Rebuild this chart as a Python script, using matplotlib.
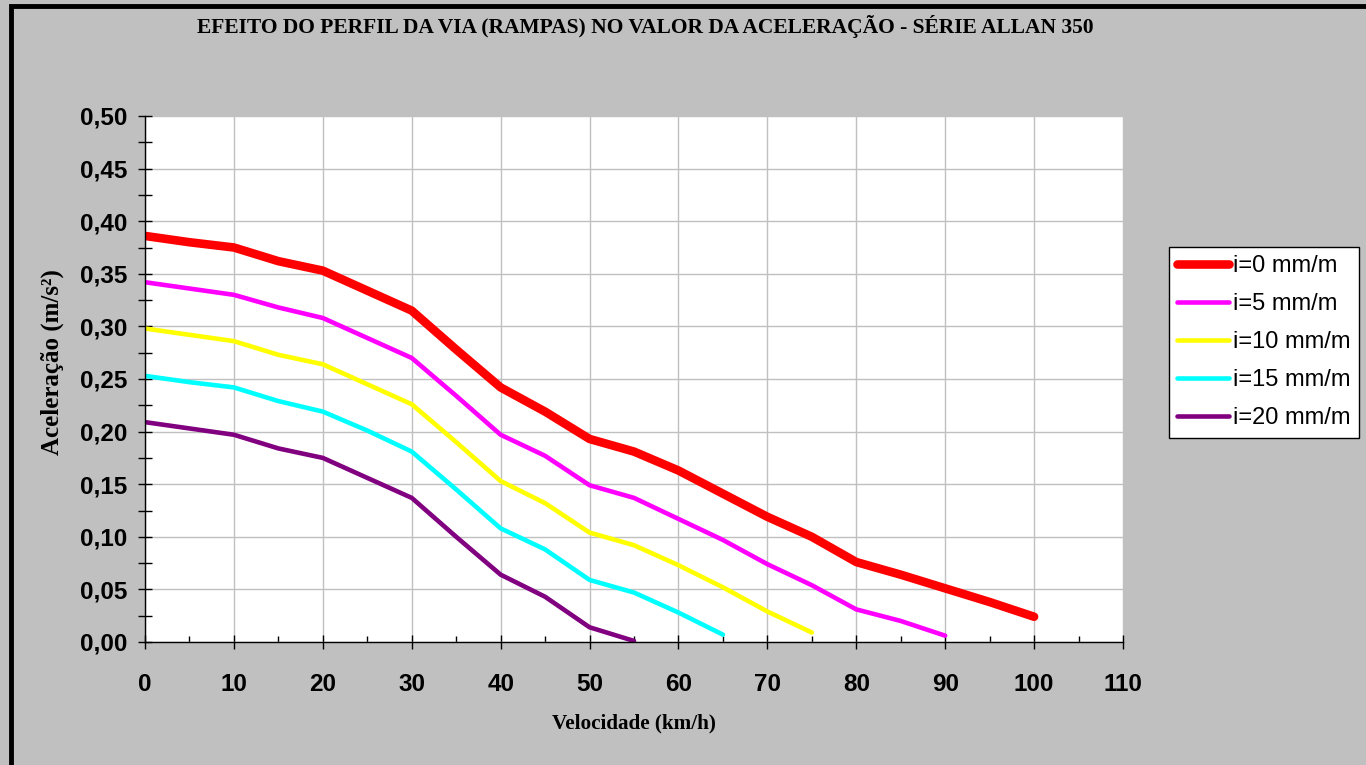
import matplotlib
matplotlib.use("Agg")
import matplotlib.pyplot as plt
from matplotlib.patches import Rectangle
from matplotlib.ticker import MultipleLocator, FuncFormatter

# velocidade (km/h) e aceleracao (m/s2) para cada rampa
vel = [0, 5, 10, 15, 20, 25, 30, 35, 40, 45, 50, 55, 60, 65, 70, 75, 80, 85, 90, 95, 100]

acel_i0 = [0.386, 0.380, 0.375, 0.362, 0.353, 0.334, 0.315, 0.278, 0.242, 0.219, 0.193,
           0.181, 0.163, 0.141, 0.119, 0.100, 0.076, 0.064, 0.051, 0.038, 0.024]
acel_i5 = [0.342, 0.336, 0.330, 0.318, 0.308, 0.289, 0.270, 0.234, 0.197, 0.177, 0.149,
           0.137, 0.117, 0.097, 0.074, 0.054, 0.031, 0.020, 0.006]
acel_i10 = [0.298, 0.292, 0.286, 0.273, 0.264, 0.245, 0.226, 0.190, 0.153, 0.132, 0.104,
            0.092, 0.073, 0.052, 0.029, 0.009]
acel_i15 = [0.253, 0.247, 0.242, 0.229, 0.219, 0.201, 0.181, 0.145, 0.108, 0.088, 0.059,
            0.047, 0.028, 0.007]
acel_i20 = [0.209, 0.203, 0.197, 0.184, 0.175, 0.156, 0.137, 0.100, 0.064, 0.043, 0.014, 0.001]

labels = ["i=0 mm/m", "i=5 mm/m", "i=10 mm/m", "i=15 mm/m", "i=20 mm/m"]
series = [acel_i0, acel_i5, acel_i10, acel_i15, acel_i20]
colors = ["#FF0000", "#FF00FF", "#FFFF00", "#00FFFF", "#800080"]
widths = [6.2, 3.3, 3.3, 3.3, 3.3]

bg = "#C0C0C0"
fig = plt.figure(figsize=(13.66, 7.65), dpi=100, facecolor=bg)

# moldura preta (so esquerda e topo aparecem)
fig.patches.append(Rectangle((11 / 1366, -0.1), 1.2, 1.1 - 6 / 765, transform=fig.transFigure,
                             fill=False, edgecolor="black", linewidth=3.5))

ax = fig.add_axes([145 / 1366, 123 / 765, 978 / 1366, 526 / 765])
ax.set_facecolor("white")

for y, lab, c, lw in zip(series, labels, colors, widths):
    ax.plot(vel[:len(y)], y, color=c, linewidth=lw, label=lab,
            solid_capstyle="round", solid_joinstyle="round")

ax.set_xlim(0, 110)
ax.set_ylim(0, 0.5)
ax.xaxis.set_major_locator(MultipleLocator(10))
ax.xaxis.set_minor_locator(MultipleLocator(5))
ax.yaxis.set_major_locator(MultipleLocator(0.05))
ax.yaxis.set_minor_locator(MultipleLocator(0.025))
ax.yaxis.set_major_formatter(FuncFormatter(lambda v, p: f"{v:.2f}".replace(".", ",")))

ax.grid(True, which="major", color="#C0C0C0", linewidth=1)
ax.set_axisbelow(True)
for s in ["top", "right"]:
    ax.spines[s].set_visible(False)
for s in ["left", "bottom"]:
    ax.spines[s].set_linewidth(1)

ax.tick_params(axis="x", which="major", direction="inout", length=10, width=1, pad=17)
ax.tick_params(axis="x", which="minor", direction="in", length=4, width=1)
ax.tick_params(axis="y", which="both", direction="inout", length=10, width=1, pad=8)
for t in ax.get_xticklabels() + ax.get_yticklabels():
    t.set_fontfamily("Liberation Sans")
    t.set_fontweight("bold")
    t.set_fontsize(17.5)

fig.text(645 / 1366, 1 - 27 / 765,
         "EFEITO DO PERFIL DA VIA (RAMPAS) NO VALOR DA ACELERAÇÃO - SÉRIE ALLAN 350",
         ha="center", va="center", family="Liberation Serif", weight="bold", fontsize=15.5)
fig.text(634 / 1366, 1 - 723 / 765, "Velocidade (km/h)",
         ha="center", va="center", family="Liberation Serif", weight="bold", fontsize=15.2)
fig.text(52 / 1366, 1 - 362 / 765, "Aceleração (m/s²)", rotation=90,
         ha="center", va="center", family="Liberation Serif", weight="bold", fontsize=18)

leg = fig.legend(loc="upper left", bbox_to_anchor=(1169 / 1366, 1 - 247 / 765),
                 bbox_transform=fig.transFigure, frameon=True, fancybox=False,
                 prop={"family": "Liberation Sans", "size": 17},
                 handlelength=2.2, handletextpad=0.15, labelspacing=0.68,
                 borderpad=0.35, borderaxespad=0)
leg.get_frame().set_edgecolor("black")
leg.get_frame().set_linewidth(1)
leg.get_frame().set_facecolor("white")
leg.get_frame().set_alpha(1)

fig.savefig("out.png", dpi=100, facecolor=bg)
